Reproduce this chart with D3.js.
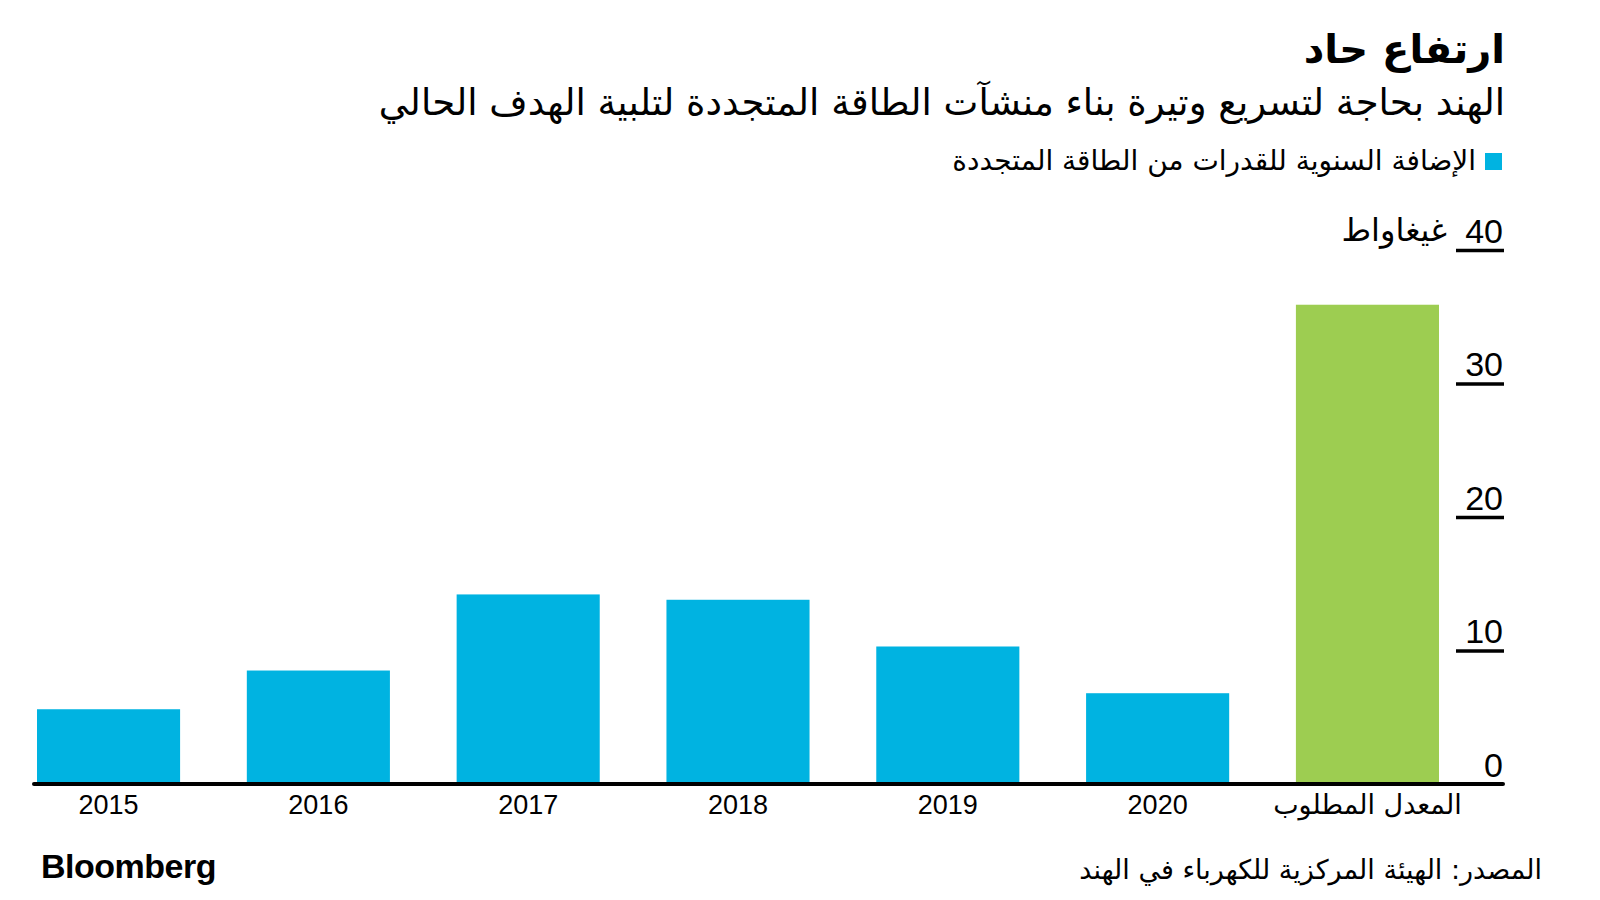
<!DOCTYPE html>
<meta charset="utf-8">
<style>
  body { margin: 0; background: #fff; }
  svg { display: block; }
</style>
<svg width="1600" height="900"></svg>
<script src="https://d3js.org/d3.v7.min.js"></script>
<script>
// data (gigawatts added per year)
var categories = ["2015", "2016", "2017", "2018", "2019", "2020", "المعدل المطلوب"];
var values = [5.6, 8.5, 14.2, 13.8, 10.3, 6.8, 35.9];
var kinds = ["actual", "actual", "actual", "actual", "actual", "actual", "required"];
var yTicks = [0, 10, 20, 30, 40];

var title = "ارتفاع حاد";
var subtitle = "الهند بحاجة لتسريع وتيرة بناء منشآت الطاقة المتجددة لتلبية الهدف الحالي";
var legendLabel = "الإضافة السنوية للقدرات من الطاقة المتجددة";
var unitLabel = "غيغاواط";
var sourceLabel = "المصدر: الهيئة المركزية للكهرباء في الهند";

var arabicFont = "'DejaVu Sans', 'Noto Sans', sans-serif";
var latinFont = "'Liberation Sans', Arial, sans-serif";

var svg = d3.select("svg");

var x = d3.scaleBand()
    .domain(categories)
    .range([37, 1439])
    .paddingInner(0.318)
    .paddingOuter(0);

var y = d3.scaleLinear()
    .domain([0, 40])
    .range([784, 250]);

var color = d3.scaleOrdinal()
    .domain(["actual", "required"])
    .range(["#00b3e1", "#9dcd51"]);

// header
svg.append("text")
    .attr("x", 1505).attr("y", 63)
    .attr("direction", "rtl").attr("text-anchor", "start")
    .attr("font-family", arabicFont).attr("font-weight", "bold")
    .attr("font-size", "40px")
    .text(title);

svg.append("text")
    .attr("x", 1505).attr("y", 115)
    .attr("direction", "rtl").attr("text-anchor", "start")
    .attr("font-family", arabicFont)
    .attr("font-size", "37px")
    .text(subtitle);

// legend
svg.append("rect")
    .attr("x", 1485).attr("y", 153)
    .attr("width", 17).attr("height", 17)
    .attr("fill", color("actual"));

svg.append("text")
    .attr("x", 1476).attr("y", 170)
    .attr("direction", "rtl").attr("text-anchor", "start")
    .attr("font-family", arabicFont)
    .attr("font-size", "28px")
    .text(legendLabel);

// bars
svg.append("g")
  .selectAll("rect")
  .data(categories)
  .enter().append("rect")
    .attr("x", function(d) { return x(d); })
    .attr("width", x.bandwidth())
    .attr("y", function(d, i) { return y(values[i]); })
    .attr("height", function(d, i) { return y(0) - y(values[i]); })
    .attr("fill", function(d, i) { return color(kinds[i]); });

// y axis on the right, labels sit on short underlines
var yAxis = svg.append("g")
    .attr("transform", "translate(1504,0)")
    .call(d3.axisLeft(y).tickValues(yTicks).tickSize(48));

yAxis.select(".domain").remove();
yAxis.selectAll(".tick line")
    .attr("stroke", "#000")
    .attr("stroke-width", 3.5)
    .attr("stroke-opacity", function(d) { return d === 0 ? 0 : 1; });
yAxis.selectAll(".tick text")
    .attr("x", -1)
    .attr("dy", -8)
    .attr("text-anchor", "end")
    .attr("font-family", latinFont)
    .attr("font-size", "34px")
    .attr("fill", "#000");

svg.append("text")
    .attr("x", 1447).attr("y", y(40) - 9)
    .attr("direction", "rtl").attr("text-anchor", "start")
    .attr("font-family", arabicFont)
    .attr("font-size", "32px")
    .text(unitLabel);

// baseline + category labels
var xAxis = svg.append("g")
    .attr("transform", "translate(0," + y(0) + ")")
    .call(d3.axisBottom(x).tickSize(0).tickPadding(6));

xAxis.select(".domain").remove();
xAxis.append("line")
    .attr("x1", 34).attr("x2", 1503)
    .attr("stroke", "#000")
    .attr("stroke-width", 4)
    .attr("stroke-linecap", "round");
xAxis.selectAll(".tick text")
    .attr("font-family", function(d) { return /\d/.test(d) ? latinFont : arabicFont; })
    .attr("font-size", "27px")
    .attr("fill", "#000")
    .attr("dy", "0.9em");

// footer
svg.append("text")
    .attr("x", 41).attr("y", 878)
    .attr("font-family", latinFont).attr("font-weight", "bold")
    .attr("font-size", "34px")
    .attr("letter-spacing", "-0.5px")
    .text("Bloomberg");

svg.append("text")
    .attr("x", 1542).attr("y", 879)
    .attr("direction", "rtl").attr("text-anchor", "start")
    .attr("font-family", arabicFont)
    .attr("font-size", "27px")
    .text(sourceLabel);
</script>
